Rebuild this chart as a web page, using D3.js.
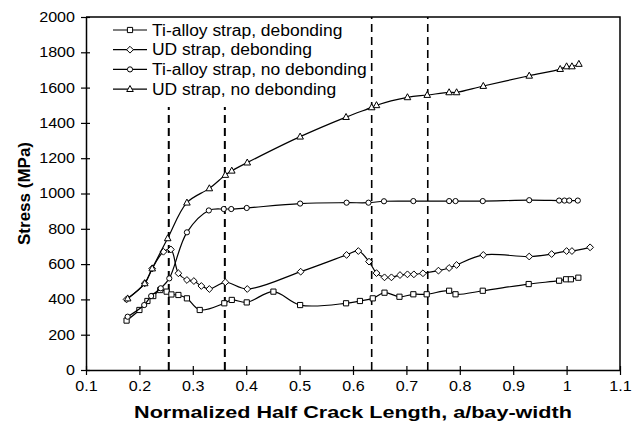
<!DOCTYPE html>
<html>
<head>
<meta charset="utf-8">
<script src="https://cdn.jsdelivr.net/npm/d3@7"></script>
<style>
  body { margin: 0; background: #fff; }
  text { font-family: "Liberation Sans", Arial, sans-serif; }
</style>
</head>
<body>
<div id="chart"></div>
<script>
// data
var tiDebX = [0.176, 0.2, 0.215, 0.226, 0.239, 0.251, 0.26, 0.273, 0.289, 0.313, 0.359, 0.373, 0.401, 0.451, 0.501, 0.587, 0.613, 0.637, 0.659, 0.687, 0.713, 0.738, 0.780, 0.792, 0.843, 0.929, 0.986, 0.999, 1.008, 1.022]
var tiDebY = [280, 340, 391, 419, 453, 444, 428, 425, 406, 340, 378, 397, 383, 444, 368, 378, 391, 406, 438, 415, 429, 429, 449, 429, 449, 487, 506, 514, 514, 523]

var udDebX = [0.176, 0.210, 0.224, 0.245, 0.259, 0.273, 0.289, 0.302, 0.316, 0.331, 0.361, 0.402, 0.502, 0.588, 0.610, 0.630, 0.644, 0.659, 0.672, 0.688, 0.702, 0.714, 0.731, 0.760, 0.780, 0.794, 0.844, 0.930, 0.972, 1.000, 1.010, 1.044]
var udDebY = [400, 491, 575, 670, 683, 548, 510, 504, 476, 459, 497, 459, 557, 652, 674, 614, 549, 525, 525, 538, 542, 542, 548, 563, 578, 595, 652, 643, 657, 674, 674, 695]

var tiNoX = [0.178, 0.209, 0.222, 0.240, 0.256, 0.289, 0.330, 0.358, 0.372, 0.401, 0.501, 0.588, 0.629, 0.658, 0.713, 0.780, 0.792, 0.843, 0.930, 0.986, 0.996, 1.005, 1.021]
var tiNoY = [302, 368, 419, 463, 519, 780, 904, 912, 912, 918, 943, 948, 948, 956, 957, 957, 957, 957, 962, 960, 960, 960, 960]

var udNoX = [0.178, 0.210, 0.224, 0.253, 0.289, 0.331, 0.361, 0.373, 0.402, 0.501, 0.587, 0.635, 0.644, 0.702, 0.739, 0.780, 0.794, 0.844, 0.930, 0.988, 1.000, 1.010, 1.023]
var udNoY = [405, 491, 575, 746, 948, 1029, 1105, 1129, 1175, 1322, 1433, 1488, 1500, 1545, 1558, 1573, 1573, 1609, 1667, 1705, 1720, 1720, 1734]

var seriesNames = ['Ti-alloy strap, debonding', 'UD strap, debonding', 'Ti-alloy strap, no debonding', 'UD strap, no debonding']
var xTicks = [0.1, 0.2, 0.3, 0.4, 0.5, 0.6, 0.7, 0.8, 0.9, 1, 1.1]
var yTicks = [0, 200, 400, 600, 800, 1000, 1200, 1400, 1600, 1800, 2000]
var dashX = [0.255, 0.36, 0.635, 0.74]
var dashTop = [1490, 1490, 2000, 2000]

var width = 633, height = 438
var margin = {top: 17, right: 13, bottom: 68, left: 86}
var w = width - margin.left - margin.right,
    h = height - margin.top - margin.bottom

var svg = d3.select('#chart').append('svg')
  .attr('width', width)
  .attr('height', height)

var g = svg.append('g')
  .attr('transform', 'translate(' + margin.left + ',' + margin.top + ')')

var x = d3.scaleLinear().domain([0.1, 1.1]).range([0, w])
var y = d3.scaleLinear().domain([0, 2000]).range([h, 0])

// the original text is a bit wider than Arial, stretch it
function stretch(sel, k) {
  sel.each(function() {
    var len = this.getComputedTextLength()
    d3.select(this).attr('textLength', len * k).attr('lengthAdjust', 'spacingAndGlyphs')
  })
}

// plot frame (top and right)
g.append('path')
  .attr('d', 'M0,0H' + w + 'V' + h)
  .attr('fill', 'none')
  .attr('stroke', '#000')
  .attr('stroke-width', 1.5)

// dashed markers
g.selectAll('.dash')
  .data(dashX)
  .enter().append('line')
  .attr('class', 'dash')
  .attr('x1', function(d) { return x(d) })
  .attr('x2', function(d) { return x(d) })
  .attr('y1', y(0))
  .attr('y2', function(d, i) { return y(dashTop[i]) })
  .attr('stroke', '#000')
  .attr('stroke-width', function(d, i) { return i < 2 ? 2 : 1.6 })
  .attr('stroke-dasharray', '8,5')

// axes
var yAxis = g.append('g')
  .call(d3.axisLeft(y).tickValues(yTicks).tickSize(5).tickPadding(6).tickFormat(d3.format('')).tickSizeOuter(0))
yAxis.selectAll('.tick line').attr('x1', 4)
var xAxis = g.append('g')
  .attr('transform', 'translate(0,' + h + ')')
  .call(d3.axisBottom(x).tickValues(xTicks).tickSize(5).tickPadding(6).tickFormat(d3.format('')).tickSizeOuter(0))
xAxis.selectAll('.tick line').attr('y1', -4)

svg.selectAll('.domain').attr('stroke-width', 1.5)
svg.selectAll('.tick line').attr('stroke-width', 1.2)
svg.selectAll('.tick text')
  .attr('font-size', 14)
  .attr('fill', '#000')
  .style('font-family', '"Liberation Sans", Arial, sans-serif')
stretch(svg.selectAll('.tick text'), 1.15)

// axis titles
svg.append('text')
  .attr('x', margin.left + w / 2)
  .attr('y', 418)
  .attr('text-anchor', 'middle')
  .attr('font-size', 17)
  .attr('font-weight', 'bold')
  .text('Normalized Half Crack Length, a/bay-width')
  .call(stretch, 1.27)

svg.append('text')
  .attr('transform', 'translate(30,' + (margin.top + h / 2) + ') rotate(-90)')
  .attr('text-anchor', 'middle')
  .attr('font-size', 17)
  .attr('font-weight', 'bold')
  .text('Stress (MPa)')

// markers
function marker(type) {
  if (type == 'square') return 'M-2.6,-2.6H2.6V2.6H-2.6Z'
  if (type == 'diamond') return 'M0,-3.4L3.4,0L0,3.4L-3.4,0Z'
  if (type == 'circle') return 'M2.6,0A2.6,2.6 0 1,1 -2.6,0A2.6,2.6 0 1,1 2.6,0Z'
  return 'M0,-3.6L3.3,2.4H-3.3Z'
}

var series = [
  {name: seriesNames[0], xs: tiDebX, ys: tiDebY, m: 'square'},
  {name: seriesNames[1], xs: udDebX, ys: udDebY, m: 'diamond'},
  {name: seriesNames[2], xs: tiNoX, ys: tiNoY, m: 'circle'},
  {name: seriesNames[3], xs: udNoX, ys: udNoY, m: 'triangle'}
]

var line = d3.line()
  .x(function(d) { return x(d[0]) })
  .y(function(d) { return y(d[1]) })
  .curve(d3.curveCatmullRom.alpha(0.5))

series.forEach(function(s) {
  var pts = s.xs.map(function(v, i) { return [v, s.ys[i]] })
  g.append('path')
    .datum(pts)
    .attr('d', line)
    .attr('fill', 'none')
    .attr('stroke', '#000')
    .attr('stroke-width', 1.2)
  g.selectAll(null)
    .data(pts)
    .enter().append('path')
    .attr('transform', function(d) { return 'translate(' + x(d[0]) + ',' + y(d[1]) + ')' })
    .attr('d', marker(s.m))
    .attr('fill', '#fff')
    .attr('stroke', '#000')
    .attr('stroke-width', 1)
})

// legend
var legend = svg.selectAll('.legend')
  .data(series)
  .enter().append('g')
  .attr('class', 'legend')
  .attr('transform', function(d, i) { return 'translate(113,' + (30 + i * 19.7) + ')' })

legend.append('line')
  .attr('x1', 0).attr('x2', 34)
  .attr('stroke', '#000')
  .attr('stroke-width', 1.2)
legend.append('path')
  .attr('transform', 'translate(17,0)')
  .attr('d', function(d) { return marker(d.m) })
  .attr('fill', '#fff')
  .attr('stroke', '#000')
legend.append('text')
  .attr('x', 39)
  .attr('dy', '0.35em')
  .attr('font-size', 16)
  .text(function(d) { return d.name })
  .call(stretch, 1.09)
</script>
</body>
</html>
